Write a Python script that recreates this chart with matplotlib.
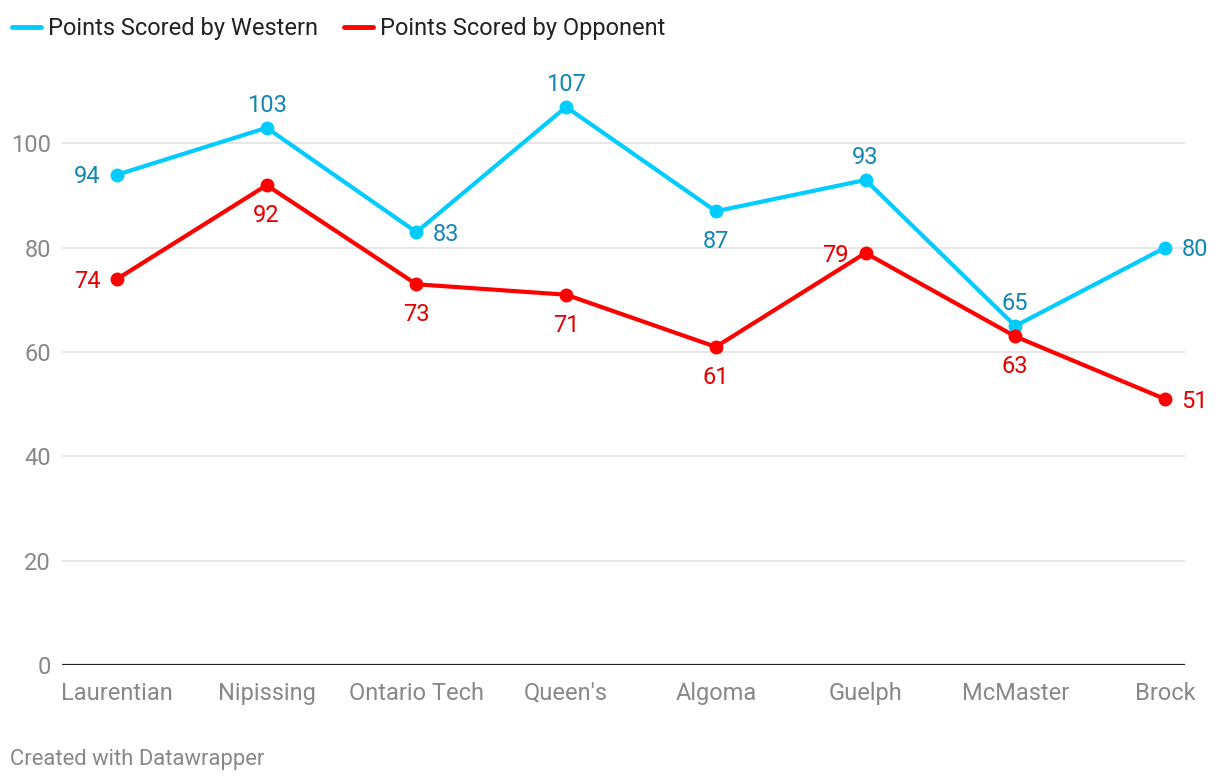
import matplotlib

matplotlib.use("Agg")
import matplotlib.pyplot as plt
from matplotlib.lines import Line2D

plt.rcParams["font.family"] = ["Roboto", "DejaVu Sans"]

teams = ["Laurentian", "Nipissing", "Ontario Tech", "Queen's", "Algoma", "Guelph", "McMaster", "Brock"]
western = [94, 103, 83, 107, 87, 93, 65, 80]
opponent = [74, 92, 73, 71, 61, 79, 63, 51]
# where each value label sits relative to its point
western_pos = ["left", "above", "right", "above", "below", "above", "above", "right"]
opponent_pos = ["left", "below", "below", "below", "below", "left", "below", "right"]

CYAN = "#00ccff"
CYAN_TXT = "#1386b3"
RED = "#ff0000"
RED_TXT = "#e60000"

W, H = 1220, 782
fig = plt.figure(figsize=(W / 100, H / 100), dpi=100)
ax = fig.add_axes([62 / W, 1 - 665 / H, (1185 - 62) / W, (665 - 60) / H])

x = list(range(len(teams)))
ax.plot(x, western, color=CYAN, lw=3, marker="o", ms=9, zorder=3, solid_capstyle="round")
ax.plot(x, opponent, color=RED, lw=3, marker="o", ms=9, zorder=3, solid_capstyle="round")

offsets = {"left": (-12, -1.5, "right", "center"), "right": (12, -1.5, "left", "center"),
           "above": (0, 16, "center", "center"), "below": (0, -22, "center", "center")}


def label(vals, pos, color):
    for i, (v, p) in enumerate(zip(vals, pos)):
        dx, dy, ha, va = offsets[p]
        ax.annotate(str(v), (i, v), xytext=(dx, dy), textcoords="offset points",
                    ha=ha, va=va, fontsize=17, color=color, zorder=4)


label(western, western_pos, CYAN_TXT)
label(opponent, opponent_pos, RED_TXT)

ax.set_xlim(-0.367, 7.134)
ax.set_ylim(0, 116)
ax.set_yticks([0, 20, 40, 60, 80, 100])
ax.set_xticks(x)
ax.set_xticklabels(teams)
ax.tick_params(axis="both", length=0, labelsize=17, labelcolor="#888888")
ax.tick_params(axis="x", pad=12)
ax.tick_params(axis="y", pad=8)
for s in ax.spines.values():
    s.set_visible(False)
ax.grid(axis="y", color="#e3e3e3", lw=1.2)
ax.set_axisbelow(True)
ax.axhline(0, color="#222222", lw=1.6, zorder=2)

# legend drawn by hand at the top left
fig.add_artist(Line2D([12 / W, 41 / W], [1 - 27 / H] * 2, color=CYAN, lw=3.5, solid_capstyle="round"))
fig.text(48 / W, 1 - 29 / H, "Points Scored by Western", fontsize=17, color="#222222", va="center")
fig.add_artist(Line2D([344 / W, 373 / W], [1 - 27 / H] * 2, color=RED, lw=3.5, solid_capstyle="round"))
fig.text(380 / W, 1 - 29 / H, "Points Scored by Opponent", fontsize=17, color="#222222", va="center")

fig.text(10 / W, 1 - 760 / H, "Created with Datawrapper", fontsize=15.8, color="#888888", va="center")

fig.savefig("out.png", dpi=100)
